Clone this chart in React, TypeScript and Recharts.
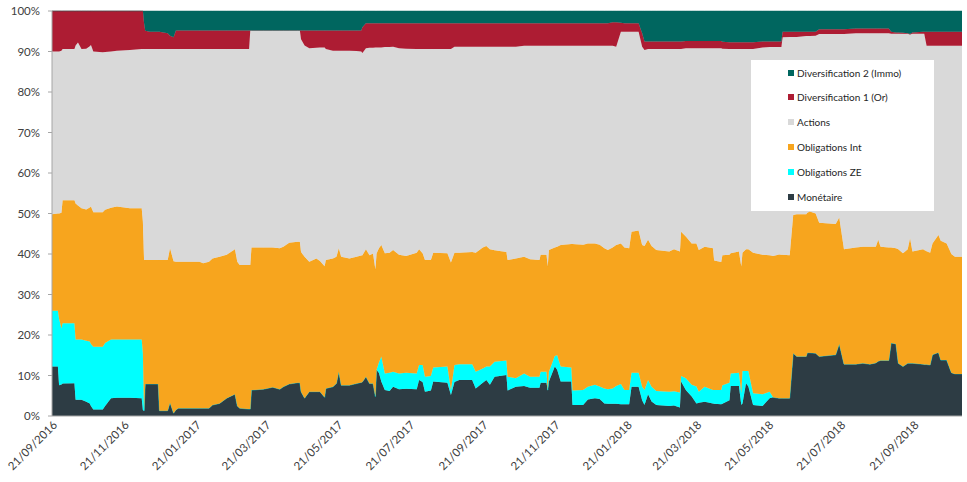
import React from 'react';
import { AreaChart, Area, XAxis, YAxis } from 'recharts';

// days since 21/09/2016
const days = [
  0, 5, 6, 8, 9, 19, 20, 22, 25, 29,
  32, 33, 35, 43, 45, 50, 55, 66, 76, 77,
  78, 79, 83, 90, 91, 98, 100, 103, 105, 107,
  125, 128, 133, 136, 142, 148, 155, 157, 159, 167,
  168, 169, 179, 187, 193, 196, 201, 208, 210, 211,
  214, 218, 224, 227, 231, 232, 238, 241, 243, 245,
  252, 258, 262, 263, 266, 269, 272, 274, 275, 277,
  279, 282, 286, 289, 294, 300, 309, 311, 314, 316,
  321, 323, 335, 338, 341, 345, 356, 359, 365, 368,
  371, 375, 385, 386, 393, 400, 405, 413, 414, 419,
  420, 421, 426, 428, 431, 440, 441, 450, 454, 460,
  464, 468, 471, 475, 478, 482, 485, 489, 491, 497,
  500, 502, 505, 508, 512, 523, 527, 532, 533, 537,
  542, 546, 548, 553, 560, 561, 567, 568, 574, 575,
  582, 584, 585, 588, 590, 594, 602, 608, 611, 616,
  618, 619, 625, 628, 631, 639, 640, 642, 647, 650,
  664, 667, 671, 681, 687, 693, 698, 700, 702, 709,
  711, 715, 717, 721, 725, 727, 729, 738, 739, 741,
  744, 746, 751, 753, 758, 762, 765, 771,
];

const monetaire = [
  12.2, 12.2, 7.6, 7.8, 8.0, 8.1, 4.0, 4.0, 4.0, 3.5,
  3.1, 2.5, 1.6, 1.6, 2.5, 4.4, 4.5, 4.5, 4.4, 1.5,
  1.3, 7.9, 7.9, 7.9, 1.3, 1.3, 3.3, 0.7, 1.5, 1.9,
  1.9, 1.9, 1.9, 2.7, 3.1, 4.4, 5.4, 2.5, 1.9, 1.7,
  1.7, 6.4, 6.6, 7.1, 6.6, 7.2, 7.9, 8.2, 8.2, 6.0,
  4.4, 6.0, 6.0, 6.0, 4.6, 6.8, 7.2, 8.0, 10.9, 7.6,
  7.6, 8.0, 8.3, 8.4, 9.7, 8.0, 8.0, 4.8, 11.4, 10.6,
  8.5, 6.4, 6.2, 7.2, 6.6, 6.7, 6.6, 8.9, 8.4, 6.0,
  6.3, 8.5, 8.2, 5.2, 8.4, 8.9, 8.9, 6.8, 8.2, 8.9,
  7.7, 9.7, 10.1, 6.3, 7.2, 7.4, 7.0, 7.0, 8.2, 8.2,
  6.3, 8.5, 12.2, 11.4, 8.5, 8.5, 2.7, 2.7, 4.1, 4.4,
  4.2, 3.1, 3.0, 3.0, 3.0, 2.9, 2.9, 2.9, 7.2, 7.2,
  3.9, 2.7, 5.4, 3.6, 2.7, 2.5, 2.6, 2.1, 8.5, 6.4,
  4.8, 3.1, 3.3, 3.5, 3.1, 3.0, 2.9, 3.0, 3.9, 7.4,
  7.4, 2.7, 3.1, 8.1, 7.3, 2.7, 2.5, 4.4, 4.6, 4.4,
  4.4, 4.4, 4.4, 15.5, 14.7, 14.7, 15.6, 15.6, 15.5, 14.7,
  15.1, 17.8, 12.8, 12.8, 13.0, 12.8, 13.1, 13.5, 13.7, 13.7,
  18.0, 17.8, 13.0, 12.2, 13.0, 13.0, 13.0, 12.8, 12.7, 12.7,
  12.6, 15.1, 15.7, 13.8, 13.8, 10.7, 10.4, 10.4,
];

const obligationsZE = [
  13.8, 13.8, 16.4, 13.8, 14.9, 14.8, 14.9, 14.9, 14.9, 15.1,
  15.3, 15.3, 15.5, 15.5, 15.5, 14.5, 14.4, 14.4, 14.5, 14.0,
  0, 0, 0, 0, 0, 0, 0, 0, 0, 0,
  0, 0, 0, 0, 0, 0, 0, 0, 0, 0,
  0, 0, 0, 0, 0, 0, 0, 0, 0, 0,
  0, 0, 0, 0, 0, 0, 0, 0, 0, 0,
  0, 0, 0, 0, 0, 0, 0, 0, 0, 2.6,
  6.2, 4.1, 4.5, 3.7, 3.9, 4.0, 3.9, 3.7, 4.2, 3.7,
  3.6, 3.5, 4.0, 1.2, 4.2, 3.9, 3.9, 4.1, 3.5, 3.3,
  4.5, 3.7, 3.6, 3.4, 2.1, 3.1, 2.7, 2.7, 2.7, 2.7,
  0.1, 2.4, 2.6, 3.6, 3.7, 3.5, 3.6, 3.7, 3.1, 3.3,
  3.1, 3.7, 3.6, 3.8, 4.4, 5.0, 3.5, 3.5, 3.5, 3.5,
  3.3, 3.7, 3.5, 3.6, 3.5, 3.5, 3.5, 3.7, 1.4, 2.9,
  2.9, 4.2, 2.7, 3.7, 3.3, 3.4, 3.5, 4.6, 4.3, 3.1,
  3.3, 2.9, 8.0, 3.0, 3.8, 2.9, 2.9, 1.6, 0, 0,
  0, 0, 0, 0, 0, 0, 0, 0, 0, 0,
  0, 0, 0, 0, 0, 0, 0, 0, 0, 0,
  0, 0, 0, 0, 0, 0, 0, 0, 0, 0,
  0, 0, 0, 0, 0, 0, 0, 0,
];

const obligationsInt = [
  23.8, 24.0, 26.0, 28.6, 30.4, 30.4, 33.6, 33.1, 32.4, 32.4,
  33.1, 33.9, 33.2, 33.2, 32.9, 32.5, 32.8, 32.4, 32.4, 32.5,
  37.2, 30.6, 30.6, 30.6, 37.2, 37.2, 38.1, 37.5, 36.6, 36.2,
  36.2, 35.8, 36.2, 36.2, 36.2, 35.4, 35.8, 35.6, 35.4, 35.6,
  35.6, 35.2, 35.0, 34.5, 34.8, 34.6, 34.9, 34.8, 34.8, 34.5,
  34.9, 32.1, 32.9, 32.3, 32.4, 31.7, 31.7, 31.3, 30.5, 31.7,
  31.3, 31.3, 31.3, 31.3, 31.5, 31.7, 32.1, 31.4, 28.7, 28.2,
  27.5, 29.7, 29.6, 30.1, 29.3, 28.8, 29.8, 28.6, 27.6, 28.8,
  28.6, 28.3, 28.0, 31.5, 27.7, 27.5, 27.7, 29.4, 29.9, 29.8,
  29.0, 27.5, 26.8, 28.8, 29.6, 28.8, 29.0, 28.8, 28.9, 28.9,
  30.5, 30.1, 26.8, 26.8, 30.0, 30.5, 36.2, 35.9, 35.4, 34.9,
  35.0, 34.6, 34.4, 34.8, 34.8, 34.7, 35.2, 35.0, 34.8, 35.1,
  35.0, 35.6, 34.6, 34.8, 34.8, 34.6, 35.1, 34.8, 35.6, 35.0,
  34.9, 35.3, 35.0, 34.6, 35.0, 32.0, 31.6, 32.1, 31.6, 29.7,
  29.9, 31.3, 29.2, 30.1, 30.1, 34.7, 34.4, 33.7, 34.9, 35.5,
  35.4, 35.4, 35.3, 34.1, 35.1, 35.1, 34.6, 34.9, 34.5, 33.0,
  32.3, 31.2, 28.4, 28.8, 28.8, 29.0, 28.7, 30.0, 28.1, 27.9,
  23.6, 23.6, 28.2, 28.0, 28.2, 30.9, 27.6, 28.4, 28.3, 28.0,
  27.7, 27.5, 29.0, 29.5, 28.8, 29.3, 28.9, 28.9,
];

const actions = [
  40.2, 40.0, 40.0, 40.0, 37.3, 37.3, 39.0, 40.2, 39.3, 39.7,
  39.8, 39.9, 39.7, 39.5, 39.0, 38.6, 38.5, 39.1, 39.3, 42.6,
  52.1, 52.1, 52.1, 52.1, 52.1, 52.1, 49.2, 52.4, 52.5, 52.5,
  52.5, 52.9, 52.5, 51.7, 51.3, 50.8, 49.4, 52.5, 53.3, 53.3,
  57.9, 53.6, 53.6, 53.6, 53.8, 53.4, 52.4, 52.2, 52.2, 52.5,
  52.2, 52.7, 52.0, 52.7, 54.0, 52.1, 51.3, 50.9, 48.8, 50.9,
  51.3, 50.8, 50.4, 49.9, 49.6, 51.2, 50.8, 54.8, 50.9, 49.6,
  48.8, 50.9, 50.8, 50.2, 51.0, 51.2, 50.3, 49.4, 50.4, 52.1,
  52.1, 50.3, 50.4, 52.7, 50.9, 50.9, 50.7, 50.9, 49.6, 49.2,
  50.0, 50.3, 50.7, 52.7, 52.3, 52.1, 52.7, 52.9, 51.6, 51.6,
  54.5, 50.4, 49.8, 49.6, 49.2, 48.9, 48.9, 49.1, 48.8, 48.8,
  49.1, 50.0, 50.4, 49.8, 49.0, 52.3, 53.3, 53.5, 49.4, 49.1,
  49.0, 48.4, 47.1, 48.6, 49.6, 50.0, 49.4, 50.0, 45.1, 46.5,
  48.2, 48.2, 49.8, 49.0, 49.4, 52.4, 52.8, 51.0, 50.8, 50.4,
  50.0, 53.7, 50.3, 49.4, 49.4, 50.3, 51.2, 51.4, 51.6, 51.2,
  51.3, 53.7, 53.9, 44.0, 43.8, 44.0, 43.6, 43.3, 43.9, 46.6,
  46.9, 45.3, 53.1, 52.9, 52.7, 52.7, 52.7, 51.0, 52.7, 52.9,
  52.8, 53.0, 53.2, 54.2, 53.2, 50.3, 53.8, 53.2, 53.4, 50.7,
  51.1, 48.8, 46.7, 48.1, 48.8, 51.4, 52.1, 52.1,
];

const diversificationOr = [
  10.0, 10.0, 10.0, 9.8, 9.4, 9.4, 8.5, 7.8, 9.4, 9.3,
  8.7, 8.4, 10.0, 10.2, 10.1, 10.0, 9.8, 9.6, 9.4, 9.4,
  6.4, 4.5, 4.3, 4.3, 4.3, 3.9, 3.3, 2.9, 4.6, 4.6,
  4.6, 4.6, 4.6, 4.6, 4.6, 4.6, 4.6, 4.6, 4.6, 4.6,
  0, 0, 0, 0, 0, 0, 0, 0, 0, 2.2,
  3.7, 4.4, 4.3, 4.2, 4.2, 4.6, 5.0, 5.0, 5.0, 5.0,
  5.0, 5.1, 5.2, 6.4, 6.2, 6.1, 6.1, 6.0, 6.0, 6.0,
  6.0, 5.9, 5.9, 5.8, 6.2, 6.3, 6.4, 6.4, 6.4, 6.4,
  6.4, 6.4, 6.4, 6.4, 5.8, 5.8, 5.8, 5.8, 5.8, 5.8,
  5.8, 5.8, 5.8, 5.8, 5.8, 5.6, 5.6, 5.6, 5.6, 5.6,
  5.6, 5.6, 5.6, 5.6, 5.6, 5.6, 5.6, 5.6, 5.6, 5.6,
  5.6, 5.6, 5.6, 5.8, 6.0, 2.2, 2.1, 2.1, 2.1, 2.1,
  3.3, 2.1, 1.9, 1.9, 1.9, 1.9, 1.9, 1.9, 1.9, 1.8,
  1.8, 1.8, 1.8, 1.8, 1.8, 1.8, 1.8, 1.7, 1.7, 1.7,
  1.7, 1.7, 1.7, 1.7, 1.7, 1.7, 1.5, 1.4, 1.4, 1.4,
  1.4, 1.4, 1.3, 1.3, 1.3, 1.1, 1.1, 1.1, 1.0, 1.2,
  1.2, 1.2, 1.2, 1.2, 1.2, 1.2, 1.2, 1.2, 1.2, 1.2,
  0.5, 0.3, 0.3, 0.2, 0.1, 0.1, 0.3, 0.5, 0.5, 3.5,
  3.5, 3.5, 3.5, 3.5, 3.5, 3.5, 3.5, 3.5,
];

const diversificationImmo = [
  0, 0, 0, 0, 0, 0, 0, 0, 0, 0,
  0, 0, 0, 0, 0, 0, 0, 0, 0, 0,
  3.0, 4.9, 5.1, 5.1, 5.1, 5.5, 6.1, 6.5, 4.8, 4.8,
  4.8, 4.8, 4.8, 4.8, 4.8, 4.8, 4.8, 4.8, 4.8, 4.8,
  4.8, 4.8, 4.8, 4.8, 4.8, 4.8, 4.8, 4.8, 4.8, 4.8,
  4.8, 4.8, 4.8, 4.8, 4.8, 4.8, 4.8, 4.8, 4.8, 4.8,
  4.8, 4.8, 4.8, 4.0, 3.0, 3.0, 3.0, 3.0, 3.0, 3.0,
  3.0, 3.0, 3.0, 3.0, 3.0, 3.0, 3.0, 3.0, 3.0, 3.0,
  3.0, 3.0, 3.0, 3.0, 3.0, 3.0, 3.0, 3.0, 3.0, 3.0,
  3.0, 3.0, 3.0, 3.0, 3.0, 3.0, 3.0, 3.0, 3.0, 3.0,
  3.0, 3.0, 3.0, 3.0, 3.0, 3.0, 3.0, 3.0, 3.0, 3.0,
  3.0, 3.0, 3.0, 2.8, 2.8, 2.9, 3.0, 3.0, 3.0, 3.0,
  5.5, 7.5, 7.5, 7.5, 7.5, 7.5, 7.5, 7.5, 7.5, 7.4,
  7.4, 7.4, 7.4, 7.4, 7.4, 7.4, 7.4, 7.6, 7.7, 7.7,
  7.7, 7.7, 7.7, 7.7, 7.7, 7.7, 7.5, 7.5, 7.5, 7.5,
  7.5, 5.1, 5.1, 5.1, 5.1, 5.1, 5.1, 5.1, 5.1, 4.5,
  4.5, 4.5, 4.5, 4.3, 4.3, 4.3, 4.3, 4.3, 4.3, 4.3,
  5.1, 5.3, 5.3, 5.4, 5.5, 5.7, 5.3, 5.1, 5.1, 5.1,
  5.1, 5.1, 5.1, 5.1, 5.1, 5.1, 5.1, 5.1,
];

const tickDays = [0, 61, 122, 181, 242, 303, 365, 426, 487, 546, 607, 668, 730];
const tickLabels = [
  '21/09/2016', '21/11/2016', '21/01/2017', '21/03/2017', '21/05/2017', '21/07/2017',
  '21/09/2017', '21/11/2017', '21/01/2018', '21/03/2018', '21/05/2018', '21/07/2018', '21/09/2018',
];
const yTicks = [0, 0.1, 0.2, 0.3, 0.4, 0.5, 0.6, 0.7, 0.8, 0.9, 1];

// bottom to top
const series = [
  { key: 'monetaire', name: 'Monétaire', color: '#2d3c44' },
  { key: 'obligationsZE', name: 'Obligations ZE', color: '#00ffff' },
  { key: 'obligationsInt', name: 'Obligations Int', color: '#f7a51e' },
  { key: 'actions', name: 'Actions', color: '#d9d9d9' },
  { key: 'divOr', name: 'Diversification 1 (Or)', color: '#ad1c33' },
  { key: 'divImmo', name: 'Diversification 2 (Immo)', color: '#00665f' },
];

const data = days.map((d, i) => ({
  day: d,
  monetaire: monetaire[i],
  obligationsZE: obligationsZE[i],
  obligationsInt: obligationsInt[i],
  actions: actions[i],
  divOr: diversificationOr[i],
  divImmo: diversificationImmo[i],
}));

const FONT = 'Lato, "Open Sans", sans-serif';

const DateTick = (props: any) => {
  const { x, y, payload } = props;
  const label = tickLabels[tickDays.indexOf(payload.value)];
  return (
    <g transform={`translate(${x + 3},${y - 1})`}>
      <text x={0} y={0} dy="0.35em" textAnchor="end" transform="rotate(-45)" fontSize={11.5} fill="#404040" fontFamily={FONT}>
        {label}
      </text>
    </g>
  );
};

export default function App() {
  return (
    <div style={{ position: 'absolute', left: 0, top: 0, width: 967, height: 482, background: '#fff', fontFamily: FONT }}>
      <AreaChart width={967} height={482} data={data} stackOffset="expand" margin={{ top: 11, right: 0, bottom: 6, left: 0 }}>
        <XAxis
          type="number"
          dataKey="day"
          domain={[0, 771]}
          ticks={tickDays}
          interval={0}
          allowDataOverflow
          tick={<DateTick />}
          tickLine={false}
          axisLine={{ stroke: '#a6a6a6' }}
          height={60}
        />
        <YAxis
          domain={[0, 1]}
          ticks={yTicks}
          interval={0}
          width={52}
          tickSize={4}
          tickMargin={8}
          tickLine={{ stroke: '#a6a6a6' }}
          axisLine={{ stroke: '#a6a6a6' }}
          tick={{ fontSize: 11.5, fill: '#404040', fontFamily: FONT }}
          tickFormatter={(v: number) => `${Math.round(v * 100)}%`}
        />
        <YAxis
          yAxisId="right"
          orientation="right"
          domain={[0, 1]}
          ticks={yTicks}
          interval={0}
          width={5}
          tickSize={3}
          axisLine={false}
          tickLine={{ stroke: '#a6a6a6' }}
          tick={false}
        />
        {series.map((s) => (
          <Area
            key={s.key}
            type="linear"
            dataKey={s.key}
            name={s.name}
            stackId="1"
            stroke={s.color}
            strokeWidth={0.5}
            fill={s.color}
            fillOpacity={1}
            dot={false}
            activeDot={false}
            isAnimationActive={false}
          />
        ))}
      </AreaChart>
      <div style={{ position: 'absolute', left: 751, top: 60, width: 183, height: 151, background: '#fff' }}>
        {series.slice().reverse().map((s, i) => (
          <div
            key={s.key}
            style={{ position: 'absolute', left: 37, top: 7 + i * 24.9, height: 11, display: 'flex', alignItems: 'center', fontSize: 10, color: '#262626', whiteSpace: 'nowrap' }}
          >
            <span style={{ display: 'inline-block', width: 6, height: 6, background: s.color, marginRight: 3 }} />
            <span>{s.name}</span>
          </div>
        ))}
      </div>
    </div>
  );
}
